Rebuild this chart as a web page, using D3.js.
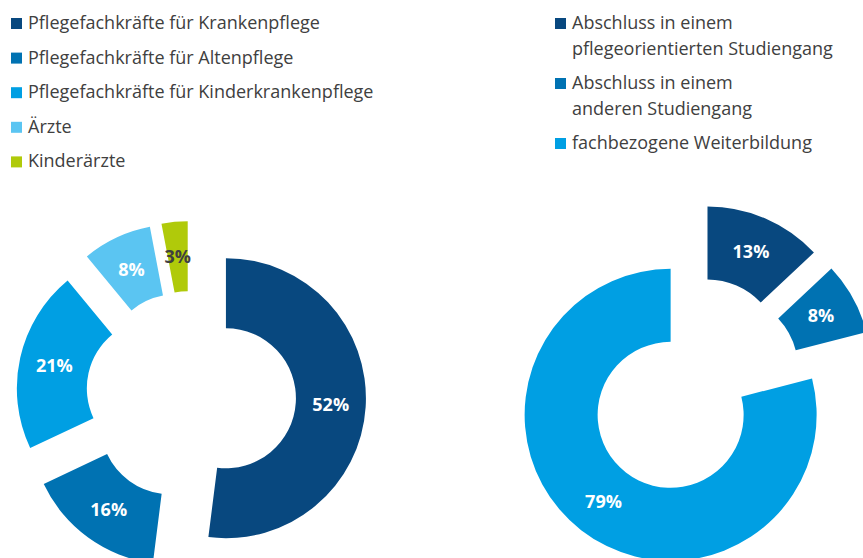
<!DOCTYPE html>
<html>
<head>
    <meta charset="UTF-8" />
    <title>Donuts</title>
    <script src="https://d3js.org/d3.v7.min.js"></script>
    <style>
        body { margin: 0; background: #fff; }
        text { font-family: "Open Sans", sans-serif; }
    </style>
</head>
<body>
<div id="main"></div>
<script type="text/javascript">

// left chart
const leftCategories = ["Pflegefachkräfte für Krankenpflege", "Pflegefachkräfte für Altenpflege",
  "Pflegefachkräfte für Kinderkrankenpflege", "Ärzte", "Kinderärzte"]
const leftValues = [52, 16, 21, 8, 3]
const leftColors = ["#08487f", "#0072b2", "#009fe3", "#5bc5f2", "#b0ca0a"]

// right chart
const rightCategories = [["Abschluss in einem", "pflegeorientierten Studiengang"],
  ["Abschluss in einem", "anderen Studiengang"], ["fachbezogene Weiterbildung"]]
const rightValues = [13, 8, 79]
const rightColors = ["#08487f", "#0072b2", "#009fe3"]

const width = 863
const height = 558

const svg = d3.select("#main").append("svg")
  .attr("width", width)
  .attr("height", height)

function donut(values, colors, cx, cy, R, darkLabel) {
  const pie = d3.pie().sort(null).value(d => d)
  const arc = d3.arc().innerRadius(R * 0.5).outerRadius(R)
  const explode = R * 0.25
  const g = svg.append("g").attr("transform", `translate(${cx},${cy})`)

  const slices = g.selectAll("g.slice").data(pie(values)).enter().append("g")
    .attr("class", "slice")
    .attr("transform", d => {
      const mid = (d.startAngle + d.endAngle) / 2
      return `translate(${explode * Math.sin(mid)},${-explode * Math.cos(mid)})`
    })

  slices.append("path")
    .attr("d", arc)
    .attr("fill", (d, i) => colors[i])

  slices.append("text")
    .attr("transform", d => `translate(${arc.centroid(d)})`)
    .attr("text-anchor", "middle")
    .attr("dy", "0.36em")
    .style("font-size", "18px")
    .style("font-weight", "bold")
    .attr("fill", (d, i) => darkLabel.includes(i) ? "#404040" : "#fff")
    .text(d => d.data + "%")
}

donut(leftValues, leftColors, 191, 396, 140, [4])
donut(rightValues, rightColors, 693, 386, 146, [])

// legends
const legL = svg.append("g")
leftCategories.forEach((c, i) => {
  const y = 29 + i * 34.6
  legL.append("rect").attr("x", 11).attr("y", y - 11).attr("width", 11).attr("height", 11)
    .attr("fill", leftColors[i])
  legL.append("text").attr("x", 28).attr("y", y)
    .style("font-size", "18px").attr("fill", "#404040").text(c)
})

const legR = svg.append("g")
const rightBase = [29, 89, 149]
rightCategories.forEach((lines, i) => {
  const y = rightBase[i]
  legR.append("rect").attr("x", 555).attr("y", y - 11).attr("width", 11).attr("height", 11)
    .attr("fill", rightColors[i])
  lines.forEach((l, j) => {
    legR.append("text").attr("x", 572).attr("y", y + j * 26)
      .style("font-size", "18px").attr("fill", "#404040").text(l)
  })
})
</script>
</body>
</html>
